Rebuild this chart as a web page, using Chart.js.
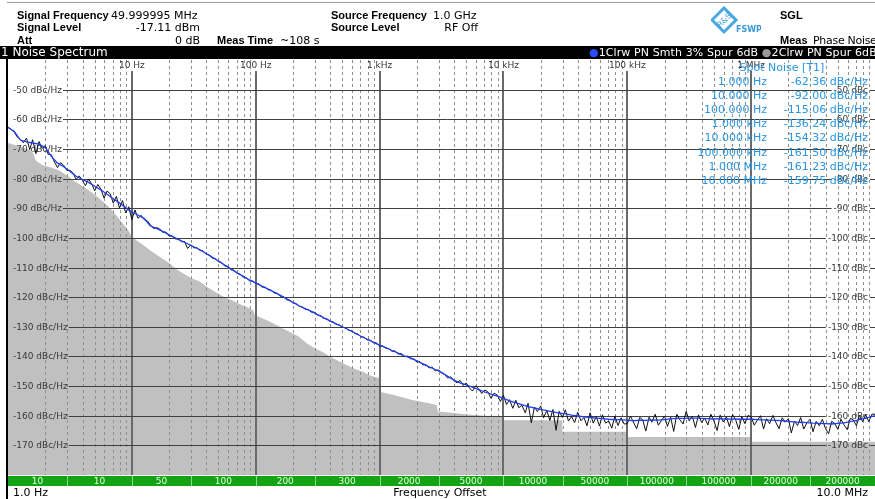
<!DOCTYPE html>
<html><head><meta charset="utf-8">
<script src="https://cdn.jsdelivr.net/npm/chart.js@4.4.1/dist/chart.umd.min.js"></script>
<style>
html,body{margin:0;padding:0;background:#fff;}
#wrap{position:relative;width:875px;height:499px;overflow:hidden;background:#fff;font-family:"DejaVu Sans",sans-serif;}
#c{position:absolute;left:0;top:0;}
.t{position:absolute;white-space:nowrap;font-size:11px;line-height:13px;color:#000;}
.b{font-family:"Liberation Sans",Arial,sans-serif;font-weight:bold;}
.r{text-align:right;}
#bar{position:absolute;left:0;top:46px;width:875px;height:13px;background:#000;}
.w{color:#fff;}
.sp{position:absolute;white-space:nowrap;font-size:11px;line-height:13px;color:#2a95e0;}
</style></head>
<body><div id="wrap">
<canvas id="c" width="875" height="499"></canvas>
<div style="position:absolute;left:7px;top:2px;width:868px;height:1px;background:#9a9a9a"></div>
<div class="t b" style="left:17px;top:9px">Signal Frequency</div>
<div class="t" style="left:111px;top:9px">49.999995 MHz</div>
<div class="t b" style="left:17px;top:21px">Signal Level</div>
<div class="t r" style="left:100px;width:100px;top:21px">-17.11 dBm</div>
<div class="t b" style="left:17px;top:34px">Att</div>
<div class="t r" style="left:100px;width:100px;top:34px">0 dB</div>
<div class="t b" style="left:217px;top:34px">Meas Time</div>
<div class="t" style="left:280px;top:34px">~108 s</div>
<div class="t b" style="left:331px;top:9px">Source Frequency</div>
<div class="t" style="left:433px;top:9px">1.0 GHz</div>
<div class="t b" style="left:331px;top:21px">Source Level</div>
<div class="t r" style="left:400px;width:78px;top:21px">RF Off</div>
<svg style="position:absolute;left:711px;top:6px" width="50" height="30" viewBox="0 0 50 30">
<polygon points="13,2 25,14 13,26 1,14" fill="none" stroke="#4aa8e0" stroke-width="3"/>
<text x="13" y="17" font-size="8" font-family="DejaVu Sans" fill="#4aa8e0" text-anchor="middle" transform="rotate(-45 13 14)">R&amp;S</text>
<text x="25" y="26" font-size="8" font-weight="bold" font-family="DejaVu Sans" fill="#3a9ad9">FSWP</text>
</svg>
<div class="t b" style="left:780px;top:9px">SGL</div>
<div class="t b" style="left:780px;top:34px">Meas</div>
<div class="t" style="left:813px;top:34px;letter-spacing:-0.3px">Phase Noise</div>
<div id="bar"></div>
<div class="t w" style="left:1px;top:46px;font-size:12px">1 Noise Spectrum</div>
<div class="t w" style="left:589px;top:46px;font-size:11px;letter-spacing:0.1px"><span style="color:#2a4cff">&#9679;</span>1Clrw PN Smth 3% Spur 6dB <span style="color:#9a9a9a">&#9679;</span>2Clrw PN Spur 6dB</div>
<div id="spot"></div>
<div class="t" style="left:13px;top:486px;font-size:11px">1.0 Hz</div>
<div class="t" style="left:340px;width:200px;top:486px;text-align:center">Frequency Offset</div>
<div class="t r" style="left:700px;width:168px;top:486px">10.0 MHz</div>
<div style="position:absolute;left:6px;top:59px;width:2px;height:440px;background:#000"></div>
</div>
<script>
// ---------- data ----------
const decadeStarts = [1, 10, 100, 1e3, 1e4, 1e5, 1e6];
const mant20 = [1,1.12,1.26,1.41,1.58,1.78,2,2.24,2.51,2.82,3.16,3.55,3.98,4.47,5.01,5.62,6.31,7.08,7.94,8.91];
const mant40 = [1,1.06,1.12,1.19,1.26,1.33,1.41,1.5,1.58,1.68,1.78,1.88,2,2.11,2.24,2.37,2.51,2.66,2.82,2.99,3.16,3.35,3.55,3.76,3.98,4.22,4.47,4.73,5.01,5.31,5.62,5.96,6.31,6.68,7.08,7.5,7.94,8.41,8.91,9.44];

// Trace 1: smoothed phase noise (blue), dBc/Hz
const trace1Val = [
 -62.8,-64.0,-67.0,-67.6,-68.0,-68.4,-69.5,-72.5,-74.8,-76.0,-77.5,-79.2,-80.3,-81.3,-82.6,-83.8,-85.3,-86.8,-88.2,-89.8,
 -91.3,-92.3,-93.5,-96.0,-96.8,-97.8,-99.0,-100.0,-101.0,-102.0,-103.0,-104.0,-105.3,-106.6,-107.8,-109.2,-110.5,-111.8,-113.0,-114.2,
 -115.2,-116.3,-117.3,-118.3,-119.4,-120.6,-121.8,-122.9,-123.9,-124.8,-125.9,-127.0,-128.0,-129.0,-130.0,-131.0,-132.1,-133.2,-134.2,-135.2,
 -136.2,-137.0,-138.0,-138.9,-139.8,-140.5,-141.5,-142.5,-143.5,-144.4,-145.4,-146.7,-148.0,-148.9,-149.6,-150.4,-151.2,-152.0,-152.7,-153.4,
 -154.1,-155.0,-155.7,-156.3,-156.9,-157.4,-157.9,-158.3,-158.7,-159.1,-159.4,-159.8,-160.1,-160.4,-160.6,-160.8,-161.0,-161.2,-161.3,-161.4,
 -161.5,-161.7,-161.5,-161.6,-161.4,-161.5,-161.3,-161.1,-160.9,-160.9,-160.8,-160.8,-160.9,-161.0,-161.1,-161.0,-161.2,-161.1,-161.2,-161.2,
 -161.2,-161.3,-161.4,-161.5,-161.6,-161.7,-161.9,-162.1,-162.2,-162.3,-162.5,-162.6,-162.7,-162.8,-162.6,-162.4,-162.0,-161.6,-161.1,-160.6,
 -160.0];

// Trace 2: raw phase noise (black), dBc/Hz
const trace2Val = [
 -62.6,-63.4,-64.3,-66.0,-66.8,-67.9,-66.4,-70.2,-66.9,-71.6,-67.5,-69.8,-68.9,-71.8,-72.0,-74.4,-76.3,-74.6,-75.6,-77.3,
 -77.2,-78.1,-80.3,-79.1,-80.6,-82.4,-80.2,-81.7,-84.1,-82.0,-83.5,-86.6,-84.2,-85.1,-88.3,-86.0,-89.9,-87.4,-91.6,-89.5,
 -93.8,-90.6,-93.4,-92.4,-93.9,-94.2,-95.6,-96.9,-96.5,-97.0,-98.2,-98.0,-99.4,-99.2,-100.4,-100.3,-101.3,-101.2,-103.6,-102.3,
 -103.4,-103.3,-104.3,-104.4,-105.6,-105.7,-106.9,-107.0,-108.1,-108.3,-109.5,-109.6,-110.8,-110.9,-112.0,-112.3,-113.3,-113.5,-114.5,-114.6,
 -115.4,-115.5,-116.6,-116.6,-117.5,-117.6,-118.6,-118.7,-119.7,-119.8,-120.9,-121.0,-122.0,-122.1,-123.1,-123.3,-124.1,-124.2,-125.1,-125.1,
 -126.1,-126.2,-127.2,-127.3,-128.2,-128.4,-129.2,-129.4,-130.2,-130.3,-131.2,-131.3,-132.3,-132.4,-133.4,-133.5,-134.4,-134.5,-135.4,-135.5,
 -136.5,-136.4,-137.2,-137.4,-138.3,-138.1,-139.2,-139.0,-140.1,-139.9,-140.8,-140.8,-141.9,-141.7,-142.9,-142.7,-143.9,-143.6,-144.9,-144.5,
 -145.6,-146.1,-147.3,-146.9,-148.2,-148.9,-148.1,-149.8,-149.0,-150.6,-151.7,-149.9,-151.0,-152.5,-151.3,-152.0,-154.1,-152.4,-153.0,-155.2,
 -153.1,-156.2,-154.6,-157.5,-154.8,-157.3,-156.5,-159.0,-155.8,-162.4,-157.1,-158.6,-156.7,-160.7,-158.2,-161.6,-157.9,-164.9,-158.5,-160.6,
 -158.0,-161.8,-160.3,-162.3,-158.8,-161.7,-160.6,-163.4,-159.0,-162.5,-160.3,-163.5,-159.7,-162.5,-161.8,-164.2,-160.1,-163.3,-160.7,-162.8,
 -162.7,-160.1,-162.1,-164.4,-160.6,-161.3,-165.2,-160.5,-162.2,-159.5,-163.2,-161.7,-160.1,-163.6,-160.5,-165.3,-159.5,-161.4,-162.8,-158.5,
 -161.7,-160.1,-164.0,-159.7,-162.3,-160.8,-163.1,-159.5,-161.8,-165.0,-159.8,-162.1,-160.4,-163.7,-159.6,-161.4,-164.6,-160.3,-162.7,-159.9,
 -160.4,-163.2,-161.6,-160.0,-164.5,-161.0,-162.7,-159.9,-162.2,-164.4,-160.7,-162.2,-161.0,-165.8,-161.8,-163.3,-160.6,-164.5,-162.4,-161.2,
 -165.4,-161.9,-163.4,-161.2,-164.3,-166.1,-161.9,-162.6,-164.6,-161.2,-163.1,-164.7,-160.9,-161.4,-163.4,-159.8,-162.0,-159.7,-162.0,-159.5,
 -159.5];

// Shaded region: measurement sensitivity limit (gray)
const limitFreq = [1,1.25,1.5,1.6,1.68,1.9,2.2,2.6,3.0,3.4,4.0,4.6,5.4,6.3,7.2,8.2,9.2,10,11,12.5,14,16.5,18,20,22.5,26,30,35,40,48,56,65,75,88,96,98,122,150,164,200,220,260,300,350,400,470,540,640,733,850,995,1000,1300,1840,2400,2900,2950,4000,4700,7000,9950,10000,29800,30000,99500,100000,995000,1e6,1e7];
const limitVal  = [-68.0,-69.2,-70.4,-71.5,-74.0,-75.4,-76.2,-77.3,-79.0,-80.7,-82.6,-84.3,-86.5,-89.0,-91.5,-94.5,-97.0,-99.5,-101.0,-102.6,-104.2,-106.2,-107.2,-108.5,-110.3,-112.0,-113.5,-114.6,-116.4,-118.4,-120.0,-121.1,-122.4,-123.7,-124.6,-126.0,-127.7,-129.6,-130.5,-132.3,-133.2,-135.6,-137.2,-138.6,-140.1,-141.6,-142.9,-144.3,-145.2,-146.5,-147.4,-151.9,-153.0,-154.7,-155.6,-156.4,-158.6,-159.1,-159.4,-160.0,-160.1,-161.5,-161.5,-165.4,-165.4,-167.2,-167.2,-168.8,-168.8];

// Axis ticks
const yTicks = [-50,-60,-70,-80,-90,-100,-110,-120,-130,-140,-150,-160,-170];
const xDecadeTicks = [10,100,1e3,1e4,1e5,1e6];
const xDecadeLabels = ['10 Hz','100 Hz','1 kHz','10 kHz','100 kHz','1 MHz'];
const minorMant = [2,3,4,5,6,7,8,9];

// RBW bar segments
const rbwEdges = [1,3,10,30,100,300,1e3,3e3,1e4,3e4,1e5,3e5,1e6,3e6,1e7];
const rbwLabels = ['10','10','50','100','200','300','2000','5000','10000','50000','100000','100000','200000','200000'];

// Spot noise table
const spotFreqLabels = ['1.000 Hz','10.000 Hz','100.000 Hz','1.000 kHz','10.000 kHz','100.000 kHz','1.000 MHz','10.000 MHz'];
const spotValues = [-62.36,-92.00,-115.06,-136.24,-154.32,-161.50,-161.23,-159.75];

// ---------- build ----------
const f20 = decadeStarts.flatMap(d => mant20.map(m => +(m*d).toPrecision(4))).concat([1e7]);
const f40 = decadeStarts.flatMap(d => mant40.map(m => +(m*d).toPrecision(4))).concat([1e7]);
const pts = (xs, ys) => xs.map((x,i) => ({x, y: ys[i]}));

const spot = document.getElementById('spot');
let html = '<div class="sp" style="left:712px;width:140px;top:61px;text-align:center">Spot Noise [T1]</div>';
spotFreqLabels.forEach((l,i) => {
  const top = 75 + i*14.1;
  html += `<div class="sp r" style="left:640px;width:127px;top:${top}px">${l}</div>`;
  html += `<div class="sp r" style="left:770px;width:98px;top:${top}px">${spotValues[i].toFixed(2)} dBc/Hz</div>`;
});
spot.innerHTML = html;

const FONT = '"DejaVu Sans", sans-serif';
const gridPlugin = {
  id: 'rsgrid',
  afterDatasetDraw(chart, args) {
    if (args.index !== 0) return;
    const {ctx, chartArea: a, scales: {x, y}} = chart;
    ctx.save();
    ctx.lineWidth = 1;
    // minor dashed verticals
    ctx.setLineDash([3, 3]);
    ctx.strokeStyle = '#8e8e8e';
    decadeStarts.forEach(d => minorMant.forEach(m => {
      const px = Math.round(x.getPixelForValue(m*d)) + 0.5;
      ctx.beginPath(); ctx.moveTo(px, a.top); ctx.lineTo(px, a.bottom); ctx.stroke();
    }));
    ctx.setLineDash([]);
    // decade verticals
    ctx.strokeStyle = '#6a6a6a';
    ctx.lineWidth = 2;
    xDecadeTicks.forEach(v => {
      const px = Math.round(x.getPixelForValue(v));
      ctx.beginPath(); ctx.moveTo(px, a.top + 11); ctx.lineTo(px, a.bottom); ctx.stroke();
    });
    // horizontal lines with label gaps
    ctx.lineWidth = 1;
    ctx.strokeStyle = '#404040';
    ctx.font = '9px ' + FONT;
    ctx.textBaseline = 'middle';
    yTicks.forEach(v => {
      const py = Math.round(y.getPixelForValue(v)) + 0.5;
      const lt = v + ' dBc/Hz', rt = v + ' dBc';
      const lx = a.left + 5, lw = ctx.measureText(lt).width;
      const rw = ctx.measureText(rt).width, rx = a.right - 7 - rw;
      ctx.beginPath();
      ctx.moveTo(lx + lw + 1, py); ctx.lineTo(rx - 2, py);
      ctx.moveTo(rx + rw + 2, py); ctx.lineTo(a.right, py);
      ctx.stroke();
      ctx.fillStyle = '#383838';
      ctx.textAlign = 'left'; ctx.fillText(lt, lx, py);
      ctx.fillText(rt, rx, py);
    });
    // decade labels at top
    ctx.textAlign = 'center';
    ctx.fillStyle = '#383838';
    xDecadeTicks.forEach((v, i) => {
      ctx.fillText(xDecadeLabels[i], x.getPixelForValue(v), a.top + 5.5);
    });
    ctx.restore();
  },
  afterDraw(chart) {
    const {ctx, chartArea: a, scales: {x}} = chart;
    ctx.save();
    const top = a.bottom + 1, h = 10;
    ctx.fillStyle = '#13a313';
    ctx.fillRect(a.left, top, a.right - a.left, h);
    ctx.font = '9px ' + FONT;
    ctx.textAlign = 'center'; ctx.textBaseline = 'middle';
    rbwLabels.forEach((l, i) => {
      const x0 = x.getPixelForValue(rbwEdges[i]), x1 = x.getPixelForValue(rbwEdges[i+1]);
      if (i > 0) { ctx.fillStyle = '#8fd88f'; ctx.fillRect(Math.round(x0), top, 1, h); }
      ctx.fillStyle = '#e8ffe8';
      ctx.fillText(l, (x0 + x1) / 2, top + h/2 + 0.5);
    });
    ctx.restore();
  }
};

new Chart(document.getElementById('c'), {
  type: 'line',
  data: {
    datasets: [
      {label: 'Limit', data: pts(limitFreq, limitVal), fill: 'start', backgroundColor: '#c0c0c0', borderWidth: 0, borderColor: 'rgba(0,0,0,0)', pointRadius: 0, order: 3},
      {label: '2Clrw PN Spur 6dB', data: pts(f40, trace2Val), borderColor: '#101010', borderWidth: 1, pointRadius: 0, fill: false, order: 2},
      {label: '1Clrw PN Smth 3% Spur 6dB', data: pts(f20, trace1Val), borderColor: '#2040f0', borderWidth: 1.3, pointRadius: 0, fill: false, order: 1}
    ]
  },
  options: {
    responsive: false, animation: false, devicePixelRatio: 1,
    layout: {padding: {left: 8, right: 0, top: 60, bottom: 24}},
    plugins: {legend: {display: false}, tooltip: {enabled: false}},
    scales: {
      x: {type: 'logarithmic', min: 1, max: 1e7, display: false},
      y: {type: 'linear', min: -180, max: -40, display: false}
    }
  },
  plugins: [gridPlugin]
});
</script>
</body></html>
